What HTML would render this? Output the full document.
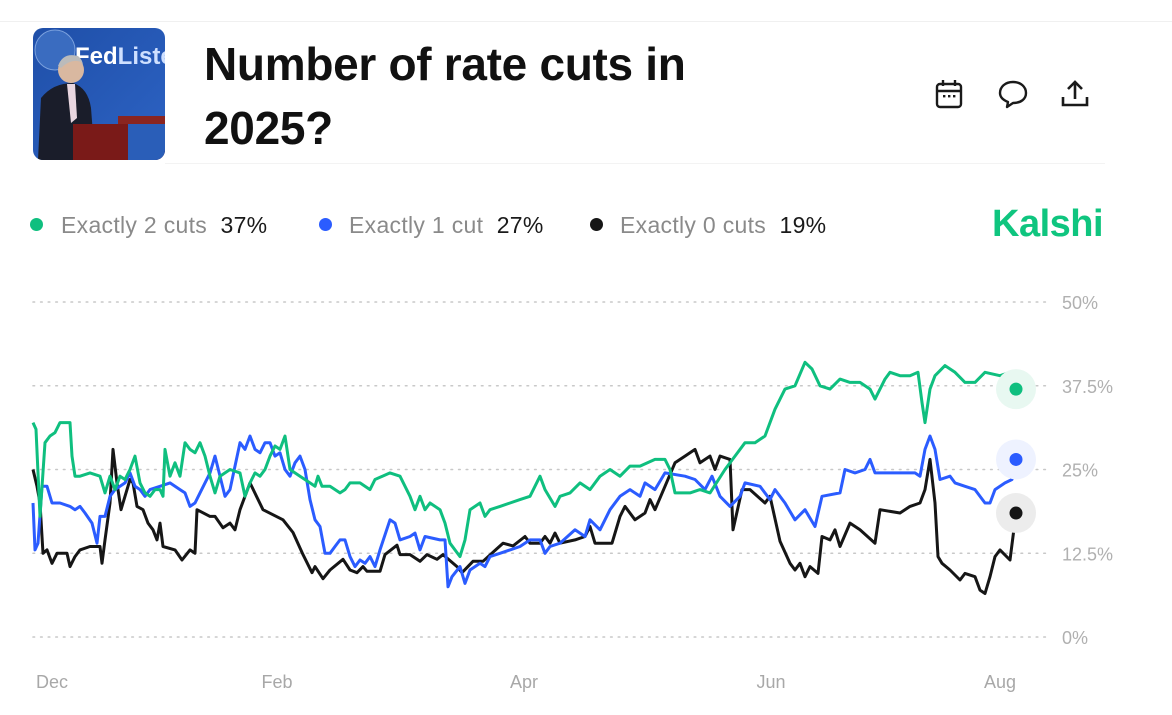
<!DOCTYPE html>
<html><head><meta charset="utf-8">
<style>
body{margin:0;width:1172px;height:715px;background:#fff;font-family:"Liberation Sans",sans-serif;overflow:hidden;position:relative}
.abs{position:absolute}
</style></head>
<body>
<div class="abs" style="left:0;top:21px;width:1172px;height:1px;background:#f0f0f0"></div>
<svg class="abs" style="left:33px;top:28px" width="132" height="132" viewBox="0 0 132 132">
<defs><clipPath id="rc"><rect width="132" height="132" rx="10"/></clipPath>
<linearGradient id="bg" x1="0" y1="0" x2="1" y2="1"><stop offset="0" stop-color="#1f4fa8"/><stop offset="1" stop-color="#2d63c4"/></linearGradient></defs>
<g clip-path="url(#rc)">
<rect width="132" height="132" fill="url(#bg)"/>
<circle cx="22" cy="22" r="20" fill="#3a6cc0" stroke="#7aa0dd" stroke-width="1"/>
<text x="42" y="36" font-size="24" font-weight="bold" fill="#fff" font-family="Liberation Sans">Fed<tspan fill="#cfe0ff">Listen</tspan></text>
<path d="M5 132 L8 70 Q20 55 40 55 Q55 60 58 80 L62 132 Z" fill="#1a1d2a"/>
<circle cx="38" cy="42" r="13" fill="#d9b8a0"/>
<path d="M25 38 Q30 24 45 28 Q50 32 50 38 L48 34 Q38 30 28 40Z" fill="#bbb"/>
<path d="M34 56 L42 56 L44 90 L38 95Z" fill="#e8d6e0"/>
<rect x="40" y="96" width="92" height="36" fill="#7a1a18"/>
<rect x="85" y="88" width="47" height="8" fill="#8a2520"/>
<rect x="95" y="96" width="37" height="36" fill="#2a5eb8"/>
</g></svg>
<div class="abs" style="left:204px;top:32px;font-size:46px;font-weight:bold;line-height:64px;color:#111;letter-spacing:-0.3px;width:560px">Number of rate cuts in<br>2025?</div>
<svg class="abs" style="left:935px;top:79px" width="28" height="30" viewBox="0 0 28 30"><rect x="2" y="5" width="24" height="23" rx="3" fill="none" stroke="#1a1a1a" stroke-width="2.4"/><line x1="2" y1="12" x2="26" y2="12" stroke="#1a1a1a" stroke-width="2.4"/><line x1="8" y1="1" x2="8" y2="7" stroke="#1a1a1a" stroke-width="2.4"/><line x1="20" y1="1" x2="20" y2="7" stroke="#1a1a1a" stroke-width="2.4"/><rect x="8" y="16" width="2.4" height="2.4" fill="#1a1a1a"/><rect x="13" y="16" width="2.4" height="2.4" fill="#1a1a1a"/><rect x="18" y="16" width="2.4" height="2.4" fill="#1a1a1a"/></svg>
<svg class="abs" style="left:997px;top:79px" width="32" height="30" viewBox="0 0 32 30"><path d="M16 3 C24 3 29 8 29 14 C29 20 24 24 16 24 L10 28 L11 23 C6 21 3 18 3 14 C3 8 8 3 16 3Z" fill="none" stroke="#1a1a1a" stroke-width="2.4" stroke-linejoin="round"/></svg>
<svg class="abs" style="left:1060px;top:79px" width="30" height="30" viewBox="0 0 30 30"><path d="M15 20 V3 M8 10 L15 3 L22 10" fill="none" stroke="#1a1a1a" stroke-width="2.6"/><path d="M3 18 V26 H27 V18" fill="none" stroke="#1a1a1a" stroke-width="2.6"/></svg>
<div class="abs" style="left:165px;top:163px;width:940px;height:1px;background:#f3f3f3"></div>

<div class="abs" style="left:30px;top:211px;font-size:23px;line-height:28px;white-space:nowrap;letter-spacing:0.3px">
<span style="position:absolute;left:0"><span style="display:inline-block;width:13px;height:13px;border-radius:50%;background:#0fbf7f;margin-right:18px;vertical-align:2px"></span><span style="color:#8a8a8a">Exactly 2 cuts</span>&nbsp;&nbsp;<span style="color:#1a1a1a">37%</span></span>
<span style="position:absolute;left:289px"><span style="display:inline-block;width:13px;height:13px;border-radius:50%;background:#2b5cff;margin-right:17px;vertical-align:2px"></span><span style="color:#8a8a8a">Exactly 1 cut</span>&nbsp;&nbsp;<span style="color:#1a1a1a">27%</span></span>
<span style="position:absolute;left:560px"><span style="display:inline-block;width:13px;height:13px;border-radius:50%;background:#161616;margin-right:17px;vertical-align:2px"></span><span style="color:#8a8a8a">Exactly 0 cuts</span>&nbsp;&nbsp;<span style="color:#1a1a1a">19%</span></span>
</div>
<div class="abs" style="left:992px;top:203px;font-size:38px;font-weight:bold;color:#0fc57f;letter-spacing:-0.5px">Kalshi</div>

<svg id="chart" class="abs" style="left:0;top:0" width="1172" height="715"></svg>
<script>
const yTicks=[0,12.5,25,37.5,50];
const yTickLabels=["0%","12.5%","25%","37.5%","50%"];
const monthLabels=["Dec","Feb","Apr","Jun","Aug"];
const monthDays=[4.75,61,122.75,184.5,241.75];
const greenDays=[0,0.75,1.75,3,4.25,5.5,6.75,9.25,9.75,10.5,11.75,14.25,16.75,18,19.25,20.5,21.75,23,24.25,25.5,26.75,28,29.25,30.5,31.75,32.5,33,34.25,35.5,36.75,38,39.25,40.5,41.75,43,44.25,45.5,46.75,49.25,51.75,53,54.25,55.5,56.75,58,59.25,60.5,61.75,63,64.25,66.75,69.25,70.5,71.25,72.25,74.25,76.75,78,79.25,81.75,84.25,85.5,89.25,91.75,94.25,95.5,96.75,98,99.25,101.75,103,104.25,106.75,108,109.25,111.75,113,114.25,116.75,119.25,121.75,124.25,126.75,128,130.5,131.75,134.25,136.75,139.25,141.75,144.25,146.75,149.25,151.75,155.5,158,159.25,160.5,164.25,166.75,169.25,173,175.5,178,180.5,183,185.5,188,190.5,193,194.75,196.75,199.25,201.75,204.25,206.75,209.25,210.5,213,214.25,216.75,219.25,221.25,222.25,223,224.25,225.5,228,230.5,233,235.5,238,241.75,244.25,244.75,245.75];
const greenVals=[32,31,18,29,30,30.5,32,32,27,24,24,24.5,24,21.5,24,22,24,23.5,25,27,23,21.5,21,22,22,21,28,24,26,24,29,28,27.5,29,27,24,21.5,24,25,24.5,21,23,24.5,24,25,27,28.5,28,30,25,24,23,22.5,24,22.5,22.5,21.5,22,23,23,22,23.5,24.5,24,21,19,21,19,20,19,17,14,12,14.5,19,20,18,19,19.5,20,20.5,21,24,22,19.5,21,21.5,23,22,24,25,24,25.5,25.5,26.5,26.5,25,21.5,21.5,22,21.5,25,27,29,29,30,34,37,37.5,41,40,37.5,37,38.5,38,38,37,35.5,38.5,39.5,39,39,39.5,35,32,37,39,40.5,39.5,38,38,39.5,39,39.5,38.5,37];
const blueDays=[0,0.5,1.25,2.25,3.5,4.75,6.75,9.25,10.5,11.75,13,14.75,16,16.75,18,19.25,20.5,21.75,23,24.25,25.5,26.75,28,29.25,31.75,34.25,36.75,38,39.25,40.5,41.75,44.25,45.5,46.75,48,49.25,51.75,53,54.25,55.5,56.75,58,59.25,60.5,61.75,63,64.25,65.5,66.75,68,69.25,70.5,71.75,73,74.25,75.5,76.75,78,79.25,80.5,81.75,83,84.25,85.5,86.75,89.25,90.5,91.75,94.25,95.5,96.75,98,101.75,103,103.75,104.75,106.75,108,109.25,111.75,113,114.25,116.75,119.25,121.75,124.25,126.75,128,129.25,131.75,135.5,138,139.25,141.75,144.25,146.75,149.25,151.75,153,155.5,158,163,165.5,168,169.75,171.75,174.25,176.75,178,181.75,184.25,185.5,188,190.5,193,195.5,197.25,201.75,203,205.5,208,209.25,210.5,220.5,221.75,223,224.25,225.5,226.75,229.25,230.5,233,235.5,238,239.25,240.5,243,244.75,245.75];
const blueVals=[20,13,14,22.5,22.5,20,20,19.5,19,19.5,18.5,17,14,18,18,21,22,22.5,23,24.5,22.5,22,21,22,22.5,23,22,21.5,19.5,20,21.5,24.5,27,24,21,22,29,28,30,28,27.5,29,29,27,27.5,25,24,26,27,25,20.5,17.5,16.5,12.5,12.5,13.5,14.5,14.5,12,10.5,11.5,11,12,10.5,13,17.5,17,14.5,15,15.5,13,15,14.5,14.5,7.5,9,10.5,8,10,11,10.5,12,12.5,13,13.5,14.5,14.5,12.5,13.5,14,16,15,17.5,16,19,21,22,21,23,22,24.5,24,23.5,22,24,21,19.5,21,23,22.5,20.5,22,20,17.5,19,16.5,21,21.5,25,24.5,25,26.5,24.5,24.5,24,28,30,28,23.5,24,23,22.5,22,20,20,22,23,23.5,26.5];
const blackDays=[0,1,1.75,2.5,3.5,4.75,6,8.5,9.25,10.5,11.75,14.25,16.75,17.25,18,19.25,20,21,22,24.25,25,26,27.5,28.75,30,31,31.75,32.5,35.5,37.25,39.25,40.5,41,44.25,45.5,47.5,49.25,50.5,51.75,54.25,57.5,62.5,65,67.5,69.75,70.5,72.5,74.25,77.5,79.25,81,82.5,83.5,86.75,88,91,91.75,94.25,96.75,98.5,101,102.5,106,107.25,110,112.5,116,117.5,120,123,124.25,126.75,128,129.25,130.5,131.75,135.5,138,139.25,140.5,144.75,146.75,148,150.5,153,154.25,155.5,158,160.5,163,165.5,166.75,169.25,170.5,171.75,174.25,175,177.25,179.25,183,184.25,186.75,189.25,190.5,191.75,193,194.25,196.25,197.25,199.25,200.5,201.75,204.25,206.75,210.5,211.75,216.75,219.25,221.75,223,224.25,225.5,226.25,227.25,229.25,231.75,233,235.5,236.75,238,239.25,240.5,241.75,244.25,245.75];
const blackVals=[25,22.5,20,12.5,13,11,12.5,12.5,10.5,12,13,13.5,13.5,11,14.5,20,28,23,19,23.5,23,19.5,19,17,16,14.5,17,13.5,13,11.5,13,12.5,19,18,18,16.3,17,16,19,23,19,17.5,15.6,12.3,9.6,10.5,8.7,10,11.6,10,9.6,10.5,9.8,9.8,12.3,13.7,12.3,12.3,11.3,12.3,11.6,12.3,10.5,9.6,11.3,11.3,13.2,14,13.6,15,14,14,15,14,15.5,14,14.5,15,16.5,14,14,18,19.5,17.5,18.5,20.5,19,22.5,26,27,28,26,27,25,27,26.5,16,22,22,20,21,14.3,11,10,11,9,10.5,9.5,15,14.5,16,13.5,17,16,14,19,18.5,19.5,20,22,26.5,20,12,11,10,8.5,9.5,9,7,6.5,9,12,13,11.5,18.5];

const X0=33,X1=1016,D0=0,D1=245.75;
const xS=d=>X0+(d-D0)/(D1-D0)*(X1-X0);
const yS=v=>637-v*(335/50);
const NS="http://www.w3.org/2000/svg";
const svg=document.getElementById('chart');
function mk(t,a){const e=document.createElementNS(NS,t);for(const k in a)e.setAttribute(k,a[k]);svg.appendChild(e);return e;}
yTicks.forEach((t,i)=>{
  const l=mk('line',{x1:33,x2:1050,y1:yS(t),y2:yS(t),stroke:'#c8c8c8','stroke-width':1.6,'stroke-dasharray':'1.6 6','stroke-linecap':'round'});
  
  
  const tx=mk('text',{x:1062,y:yS(t)+7,'font-size':18,fill:'#b0b0b0','font-family':'Liberation Sans'});
  tx.textContent=yTickLabels[i];
  
  
});
monthLabels.forEach((m,i)=>{
  const tx=mk('text',{x:xS(monthDays[i]),y:688,'font-size':18,fill:'#a8a8a8','text-anchor':'middle','font-family':'Liberation Sans'});
  tx.textContent=m;
  
  
});
const series=[[blackDays,blackVals,'#161616','#ececec','series-0-cuts'],[blueDays,blueVals,'#2b5cff','#eef2ff','series-1-cut'],[greenDays,greenVals,'#0fbf7f','#e8f8f1','series-2-cuts']];
series.forEach(s=>{
  const pts=s[0].map((d,i)=>xS(d).toFixed(1)+','+yS(s[1][i]).toFixed(1)).join(' ');
  const p=mk('polyline',{points:pts,fill:'none',stroke:s[2],'stroke-width':3,'stroke-linejoin':'round'});
  
  
});
series.forEach(s=>{
  const n=s[0].length-1,cx=xS(s[0][n]),cy=yS(s[1][n]);
  const h=mk('circle',{cx:cx,cy:cy,r:20,fill:s[3]});
  
  
  const c=mk('circle',{cx:cx,cy:cy,r:6.5,fill:s[2]});
  
  
});
</script>
</body></html>
